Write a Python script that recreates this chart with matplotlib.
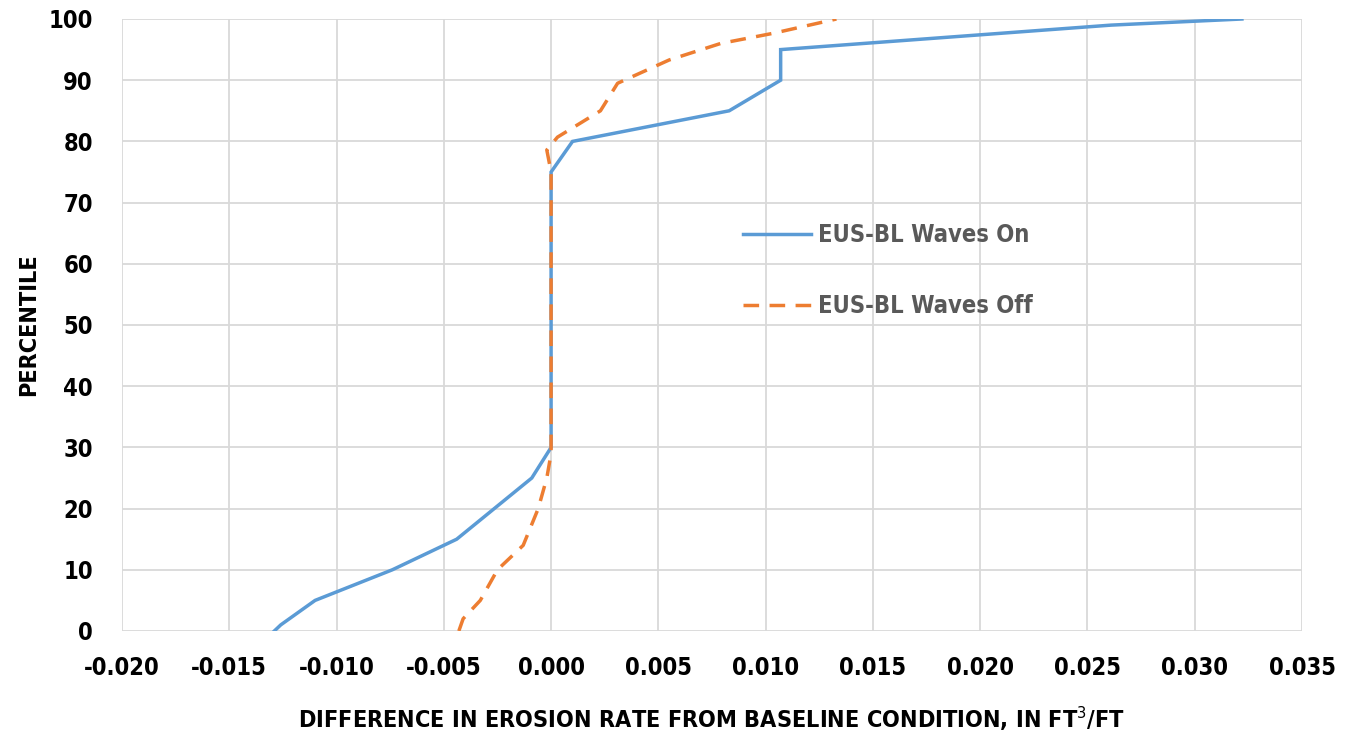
import matplotlib
matplotlib.use("Agg")
import matplotlib.pyplot as plt

# 資料
waves_on_x = [-0.0129, -0.0126, -0.0110, -0.0074, -0.0044, -0.0009, 0.0000, 0.0000, 0.0010, 0.0083, 0.0107, 0.0107, 0.0261, 0.0322]
waves_on_y = [0, 1, 5, 10, 15, 25, 30, 75, 80, 85, 90, 95, 99, 100]

waves_off_x = [-0.0043, -0.0041, -0.0033, -0.0025, -0.0013, -0.0006, -0.0002, 0.0000, 0.0000, -0.0002, 0.0003, 0.0023, 0.0031, 0.0055, 0.0079, 0.0104, 0.0133]
waves_off_y = [0, 2, 5, 10, 14, 20, 25, 29, 75, 78.6, 80.7, 85, 89.5, 93.3, 96, 97.7, 100]

labels = ["EUS-BL Waves On", "EUS-BL Waves Off"]
x_ticks = [-0.020, -0.015, -0.010, -0.005, 0.000, 0.005, 0.010, 0.015, 0.020, 0.025, 0.030, 0.035]
y_ticks = [0, 10, 20, 30, 40, 50, 60, 70, 80, 90, 100]

plt.rcParams["font.family"] = ["DejaVu Sans"]
plt.rcParams["font.stretch"] = "condensed"

fig = plt.figure(figsize=(13.59, 7.39), dpi=100)
ax = fig.add_axes([122 / 1359, 1 - 631 / 739, (1302 - 122) / 1359, (631 - 19) / 739])

ax.plot(waves_on_x, waves_on_y, color="#5B9BD5", lw=2.5, label=labels[0], solid_joinstyle="miter")
ax.plot(waves_off_x, waves_off_y, color="#ED7D31", lw=2.5, ls=(0, (4.5, 3)), label=labels[1])

ax.set_xlim(-0.020, 0.035)
ax.set_ylim(0, 100)
ax.set_xticks(x_ticks)
ax.set_yticks(y_ticks)
ax.set_xticklabels([f"{v:.3f}" for v in x_ticks])
ax.grid(True, color="#D9D9D9", lw=1.3)
ax.set_axisbelow(True)
for s in ax.spines.values():
    s.set_visible(False)
ax.tick_params(length=0, labelsize=17)
ax.tick_params(axis="x", pad=18)
ax.tick_params(axis="y", pad=21)
for t in ax.get_xticklabels() + ax.get_yticklabels():
    t.set_fontweight("bold")

ax.set_xlabel("DIFFERENCE IN EROSION RATE FROM BASELINE CONDITION, IN FT$^3$/FT",
              fontsize=16.8, fontweight="bold", labelpad=18)
ax.set_ylabel("PERCENTILE", fontsize=16.8, fontweight="bold", labelpad=6)

leg = ax.legend(loc="upper left", bbox_to_anchor=((721.5 - 122) / 1180, 1 - (202 - 19) / 612),
                frameon=False, fontsize=17, handlelength=2.9, handletextpad=0.3, labelspacing=2.0)
for t in leg.get_texts():
    t.set_color("#595959")
    t.set_fontweight("bold")

fig.savefig("out.png", dpi=100)
